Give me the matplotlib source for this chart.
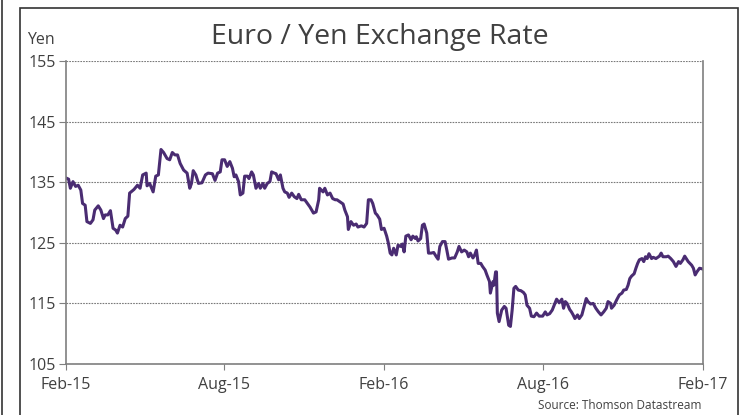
import pandas as pd
import matplotlib.pyplot as plt
import matplotlib.dates as mdates
from matplotlib.lines import Line2D
from matplotlib.patches import Rectangle

plt.rcParams['font.family'] = ['Open Sans', 'DejaVu Sans']

# Euro / Yen: days since 2015-02-01 and yen per euro
days = [
    0, 3, 5, 8, 11, 14, 17, 19, 22, 24, 28, 31, 33, 37, 40, 43, 45, 48, 51, 54,
    57, 59, 62, 65, 68, 71, 73, 78, 82, 85, 88, 92, 93, 96, 100, 103, 106, 109,
    112, 116, 119, 122, 125, 128, 131, 135, 139, 142, 144, 146, 149, 152, 156,
    160, 163, 168, 171, 174, 177, 179, 182, 185, 188,
    191, 193, 195, 198, 200, 203, 205, 208, 210, 213, 215, 218, 221, 223, 226,
    228, 231, 234, 236, 239, 241, 244, 246, 249, 251, 254, 256, 259, 262, 265,
    267, 270, 274, 277, 280, 284, 287, 290, 291, 295, 297, 300, 303, 306, 309,
    311, 314, 318, 320, 323, 324, 327, 330, 333, 335, 339, 342, 345, 347, 350,
    352, 355, 357, 360, 362, 365, 368, 370, 372,
    374, 376, 379, 381, 384, 386, 388, 390, 393, 396, 398, 401, 402, 404, 407,
    409, 411, 414, 416, 419, 422, 425, 427, 429, 432, 435, 437, 439, 443, 446,
    449, 451, 454, 457, 460, 462, 464, 467, 469, 471, 473, 476, 478, 481, 483,
    486, 487, 490, 491, 493, 494, 495, 497, 500, 503, 505, 508, 510, 512, 514,
    516, 519, 522, 525, 527, 529, 532, 534, 537, 540, 543,
    547, 550, 552, 555, 558, 561, 563, 566, 569, 571, 573, 575, 578, 580, 582,
    584, 587, 589, 592, 594, 597, 599, 602, 605, 608, 611, 614, 617, 620, 622,
    625, 626, 629, 632, 635, 638, 640, 643, 645, 647, 649, 652, 654, 656, 658,
    661, 663, 665, 667, 669, 672, 674, 677, 681, 683, 685, 689, 691, 694, 697,
    700, 703, 705, 708, 710, 714, 718, 720, 722, 724, 727, 730,
]
eurjpy = [
    135.7, 135.5, 134.0, 135.1, 134.3, 134.5, 133.7, 131.5, 131.2, 128.5, 128.2,
    128.8, 130.4, 131.1, 130.4, 129.0, 129.6, 129.6, 130.3, 127.4, 127.1, 126.6,
    127.9, 127.6, 129.0, 129.4, 133.2, 133.8, 134.5, 134.0, 136.2, 136.5, 134.4,
    134.8, 133.4, 136.0, 136.2, 140.4, 139.9, 138.9, 138.7, 139.9, 139.5, 139.5,
    138.1, 137.0, 136.5, 134.0, 134.8, 136.9, 136.2, 134.8, 134.9, 136.2, 136.5,
    136.4, 135.3, 136.5, 136.7, 138.7, 138.7, 137.6, 138.4,
    137.3, 135.9, 136.2, 135.1, 132.9, 133.2, 136.0, 136.0, 135.6, 136.7, 136.2,
    134.0, 134.8, 134.0, 134.8, 134.0, 134.8, 135.1, 136.7, 136.5, 136.4, 135.4,
    136.2, 134.0, 133.4, 133.2, 132.5, 133.2, 132.6, 132.3, 133.0, 132.1, 132.1,
    131.5, 130.9, 129.9, 130.1, 132.1, 134.0, 133.4, 134.0, 132.9, 133.2, 132.3,
    132.1, 132.1, 131.8, 131.4, 130.4, 129.3, 127.2, 128.5, 127.9, 128.1, 127.6,
    127.8, 127.6, 128.2, 132.1, 132.1, 131.5, 129.9, 129.6, 128.9, 127.2, 127.4,
    126.1, 124.9, 123.3,
    123.0, 124.1, 123.0, 124.6, 124.4, 124.8, 123.5, 126.1, 126.3, 125.5, 126.1,
    125.7, 126.0, 125.3, 125.7, 127.9, 128.1, 126.6, 123.3, 123.3, 123.4, 122.7,
    122.3, 124.4, 125.2, 125.2, 123.8, 122.3, 122.5, 122.5, 123.5, 124.4, 123.5,
    123.8, 123.5, 122.7, 123.3, 122.5, 123.0, 123.8, 121.6, 121.6, 121.1, 120.5,
    119.7, 118.6, 116.7, 118.6, 118.0, 120.2, 120.2, 113.4, 112.0, 113.9, 114.5,
    114.2, 111.4, 111.2, 113.9, 117.5, 117.8, 117.2, 117.1, 116.8, 116.4, 114.7,
    114.2, 112.9, 112.8, 113.4, 112.9,
    112.9, 113.6, 113.1, 113.3, 113.9, 115.0, 115.7, 115.1, 115.7, 114.2, 115.3,
    115.0, 114.0, 113.6, 113.1, 112.5, 113.1, 112.5, 113.1, 114.2, 115.8, 115.3,
    114.9, 115.0, 114.2, 113.6, 113.1, 113.6, 114.2, 115.3, 115.0, 114.2, 114.7,
    115.6, 116.4, 116.7, 117.2, 117.3, 118.0, 119.1, 119.5, 119.9, 120.8, 121.6,
    122.2, 122.4, 121.9, 122.7, 122.4, 123.2, 122.4, 122.6, 122.4, 122.8, 123.3,
    122.7, 122.7, 122.8, 122.4, 121.9, 121.1, 121.9, 121.6, 122.2, 122.8, 121.9,
    121.3, 120.8, 119.7, 120.2, 120.8, 120.7,
]
tick_dates = ['2015-02-01', '2015-08-01', '2016-02-01', '2016-08-01', '2017-02-01']
tick_labels = ['Feb-15', 'Aug-15', 'Feb-16', 'Aug-16', 'Feb-17']
y_ticks = [105, 115, 125, 135, 145, 155]

dates = pd.Timestamp('2015-02-01') + pd.to_timedelta(days, unit='D')

text_col = '#404040'
fig = plt.figure(figsize=(7.43, 4.15), dpi=100)
ax = fig.add_axes([66 / 743, 51 / 415, 637 / 743, 303 / 415])

ax.plot(dates, eurjpy, color='#4a2c72', linewidth=2.2, solid_joinstyle='round')

ax.set_ylim(105, 155)
ax.set_xlim(pd.Timestamp(tick_dates[0]), pd.Timestamp(tick_dates[-1]))
ax.set_yticks(y_ticks)
ax.set_xticks(pd.to_datetime(tick_dates))
ax.set_xticklabels(tick_labels)
ax.yaxis.grid(True, linestyle=(0, (1.5, 1)), color='#7a7a7a', linewidth=0.8)
ax.set_axisbelow(True)

for side in ['left', 'right', 'bottom']:
    ax.spines[side].set_color('#7f7f7f')
    ax.spines[side].set_linewidth(1.2)
ax.spines['top'].set_visible(False)
ax.tick_params(axis='y', length=5, width=0.8, color='#7f7f7f', labelsize=11.5,
               labelcolor=text_col, pad=2)
ax.tick_params(axis='x', length=4, width=0.8, color='#7f7f7f', labelsize=11.5,
               labelcolor=text_col, pad=5)

fig.text(380 / 743, 1 - 37 / 415, 'Euro / Yen Exchange Rate', ha='center',
         va='center', fontsize=20.5, color=text_col)
fig.text(27 / 743, 1 - 40 / 415, 'Yen', ha='left', va='center', fontsize=11.5,
         color=text_col)
fig.text(702 / 743, 1 - 405 / 415, 'Source: Thomson Datastream', ha='right',
         va='center', fontsize=8.5, color=text_col)

# frame lines around the panel
fig.add_artist(Line2D([2 / 743, 2 / 743], [0, 1], color='#333333', linewidth=1.2))
fig.add_artist(Rectangle((20 / 743, -0.05), 718 / 743, 1.05 - 8 / 415,
                         fill=False, edgecolor='#333333', linewidth=1.2,
                         transform=fig.transFigure))

fig.savefig('out.png', dpi=100)
